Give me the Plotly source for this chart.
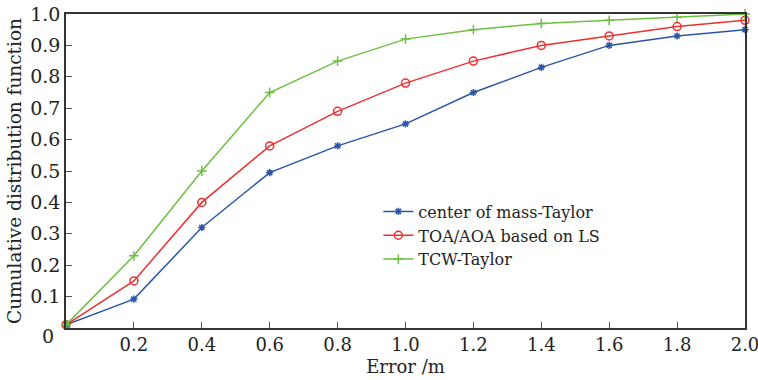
import plotly.graph_objects as go

x_vals = [0.0, 0.2, 0.4, 0.6, 0.8, 1.0, 1.2, 1.4, 1.6, 1.8, 2.0]
mass_taylor = [0.01, 0.092, 0.32, 0.495, 0.58, 0.65, 0.75, 0.83, 0.90, 0.93, 0.95]
toa_aoa_ls = [0.01, 0.15, 0.40, 0.58, 0.69, 0.78, 0.85, 0.90, 0.93, 0.96, 0.98]
tcw_taylor = [0.01, 0.23, 0.50, 0.75, 0.85, 0.92, 0.95, 0.97, 0.98, 0.99, 1.0]
names = ["center of mass-Taylor", "TOA/AOA based on LS", "TCW-Taylor"]
x_ticks = [0.2, 0.4, 0.6, 0.8, 1.0, 1.2, 1.4, 1.6, 1.8, 2.0]
x_tick_labels = ["0.2", "0.4", "0.6", "0.8", "1.0", "1.2", "1.4", "1.6", "1.8", "2.0"]
y_ticks = [0.1, 0.2, 0.3, 0.4, 0.5, 0.6, 0.7, 0.8, 0.9, 1.0]
y_tick_labels = ["0.1", "0.2", "0.3", "0.4", "0.5", "0.6", "0.7", "0.8", "0.9", "1.0"]
origin_label = "0"

FONT = "DejaVu Serif"
fig = go.Figure()
styles = [
    (mass_taylor, "#2b56a8", "asterisk-open", 6),
    (toa_aoa_ls, "#ee3030", "circle-open", 8),
    (tcw_taylor, "#6cc040", "cross-thin-open", 7),
]
for (vals, col, sym, sz), nm in zip(styles, names):
    fig.add_trace(go.Scatter(
        x=x_vals, y=vals, name=nm, mode="lines+markers",
        line=dict(color=col, width=1.5),
        marker=dict(symbol=sym, size=sz, color=col, line=dict(color=col, width=1.5)),
        cliponaxis=False,
    ))

fig.add_annotation(x=0, y=0, xref="x", yref="y", text=origin_label, showarrow=False,
                   xanchor="center", yanchor="middle", xshift=-18, yshift=-8,
                   font=dict(family=FONT, size=19, color="#222"))

fig.update_layout(
    width=758, height=380,
    margin=dict(l=66, r=13, t=14, b=52),
    paper_bgcolor="white", plot_bgcolor="white",
    font=dict(family=FONT, size=18, color="#222"),
    showlegend=True,
    legend=dict(x=0.46, y=0.425, xanchor="left", yanchor="top",
                bgcolor="rgba(0,0,0,0)", font=dict(family=FONT, size=16),
                tracegroupgap=0, itemwidth=30),
    xaxis=dict(range=[0, 2.0], tickvals=x_ticks, ticktext=x_tick_labels,
               ticks="inside", ticklen=6, tickcolor="#555", showgrid=False,
               showline=True, linecolor="#333", linewidth=1.5, mirror=True,
               zeroline=False, automargin=False, tickfont=dict(size=18),
               ticklabeloverflow="allow",
               title=dict(text="Error /m", font=dict(family=FONT, size=18), standoff=6)),
    yaxis=dict(range=[0, 1.0], tickvals=y_ticks, ticktext=y_tick_labels,
               ticks="inside", ticklen=6, tickcolor="#555", showgrid=False,
               showline=True, linecolor="#333", linewidth=1.5, mirror=True,
               zeroline=False, automargin=False, tickfont=dict(size=19),
               ticklabeloverflow="allow",
               title=dict(text="Cumulative distribution function", font=dict(family=FONT, size=18.5), standoff=4)),
)
fig.write_html("out.html")
